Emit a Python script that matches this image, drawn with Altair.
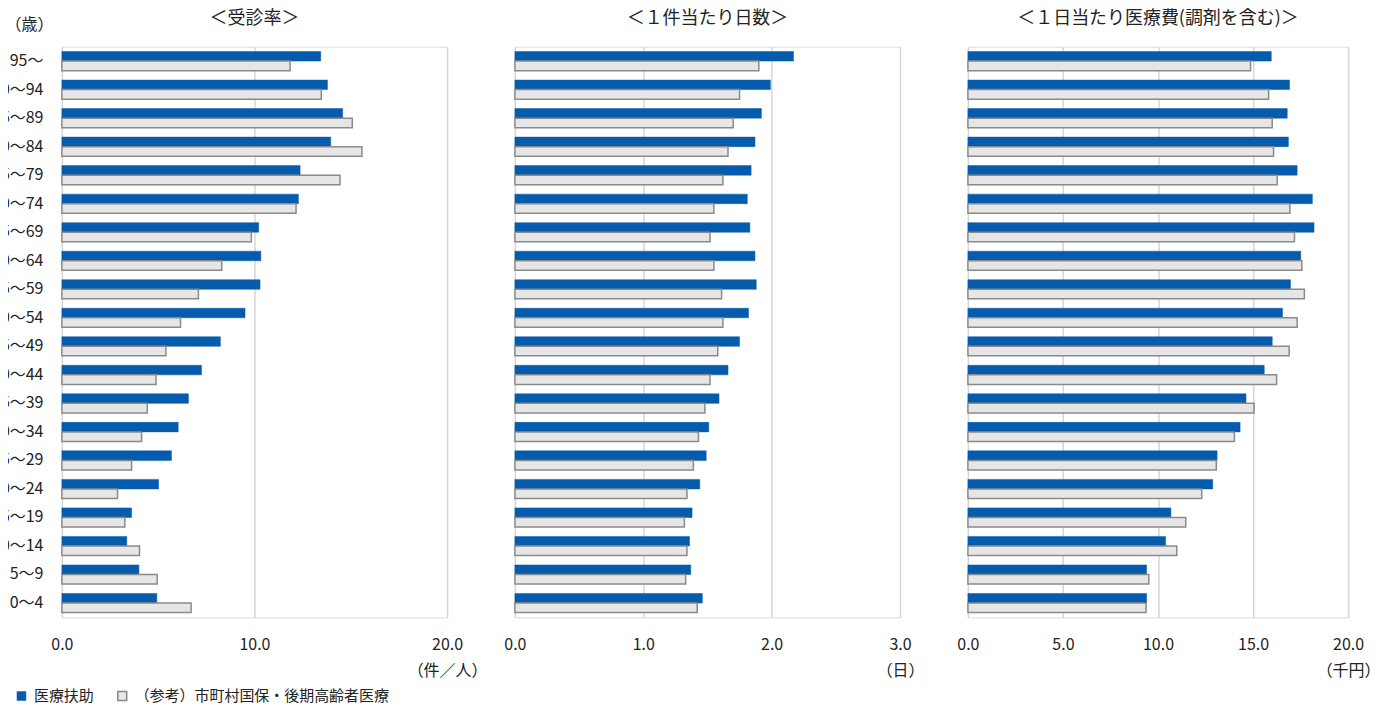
import altair as alt
import pandas as pd

ages = ["95～", "90～94", "85～89", "80～84", "75～79", "70～74", "65～69", "60～64",
        "55～59", "50～54", "45～49", "40～44", "35～39", "30～34", "25～29", "20～24",
        "15～19", "10～14", "5～9", "0～4"]
series = ["医療扶助", "（参考）市町村国保・後期高齢者医療"]

rate_fuj = [13.44, 13.79, 14.58, 13.96, 12.37, 12.28, 10.22, 10.33, 10.29, 9.51,
            8.23, 7.25, 6.57, 6.04, 5.69, 5.02, 3.62, 3.37, 4.00, 4.93]
rate_ref = [11.85, 13.47, 15.08, 15.58, 14.44, 12.16, 9.84, 8.30, 7.09, 6.16,
            5.40, 4.89, 4.43, 4.14, 3.62, 2.89, 3.27, 4.03, 4.95, 6.71]
days_fuj = [2.17, 1.99, 1.92, 1.87, 1.84, 1.81, 1.83, 1.87, 1.88, 1.82,
            1.75, 1.66, 1.59, 1.51, 1.49, 1.44, 1.38, 1.36, 1.37, 1.46]
days_ref = [1.90, 1.75, 1.70, 1.66, 1.62, 1.55, 1.52, 1.55, 1.61, 1.62,
            1.58, 1.52, 1.48, 1.43, 1.39, 1.34, 1.32, 1.34, 1.33, 1.42]
cost_fuj = [15.96, 16.92, 16.80, 16.86, 17.32, 18.12, 18.21, 17.51, 16.97, 16.55,
            16.01, 15.59, 14.63, 14.32, 13.11, 12.88, 10.68, 10.40, 9.40, 9.40]
cost_ref = [14.87, 15.82, 16.01, 16.08, 16.27, 16.94, 17.18, 17.57, 17.70, 17.32,
            16.90, 16.24, 15.05, 14.02, 13.07, 12.30, 11.46, 10.99, 9.52, 9.37]

titles = ["＜受診率＞", "＜１件当たり日数＞", "＜１日当たり医療費(調剤を含む)＞"]
units = ["（件／人）", "（日）", "（千円）"]
x_max = [20, 3, 20]
x_ticks = [[0, 10, 20], [0, 1, 2, 3], [0, 5, 10, 15, 20]]
widths = [386, 386, 381]
title_offsets = [-11, 19, 19]

FONT = "Noto Sans CJK JP"
BLUE = "#055BAC"
REF_FILL = "#e6e6e6"
GRAY = "#8a8a8a"
TXT = "#222222"


def make_df(a, b):
    rows = []
    for i, age in enumerate(ages):
        rows.append({"age": age, "series": series[0], "value": a[i]})
        rows.append({"age": age, "series": series[1], "value": b[i]})
    return pd.DataFrame(rows)


def panel(k, a, b, show_y):
    df = make_df(a, b)
    if show_y:
        yaxis = alt.Axis(
            title="（歳）", labels=True, ticks=False, domain=False,
            labelFontSize=16, labelPadding=19, labelColor=TXT, labelFont=FONT,
            titleAngle=0, titleX=-33, titleY=-22, titleAlign="center",
            titleBaseline="middle", titleFontSize=16, titleFontWeight="normal",
            titleFont=FONT, titleColor=TXT,
        )
    else:
        yaxis = alt.Axis(title=None, labels=False, ticks=False, domain=False)
    return alt.Chart(df).mark_bar().encode(
        x=alt.X("value:Q",
                scale=alt.Scale(domain=[0, x_max[k]], nice=False, zero=True),
                axis=alt.Axis(values=x_ticks[k], format=".1f", title=units[k],
                              ticks=False, domain=False, grid=True,
                              gridColor="#d6d6d6", gridWidth=1.5,
                              labelFontSize=16, labelPadding=19, labelColor=TXT,
                              labelFont=FONT, labelFlush=False,
                              titleX=widths[k], titleY=53, titleAlign="center",
                              titleBaseline="middle", titleFontSize=16,
                              titleFontWeight="normal", titleFont=FONT,
                              titleColor=TXT)),
        y=alt.Y("age:N", sort=ages,
                scale=alt.Scale(paddingInner=0.33, paddingOuter=0.17),
                axis=yaxis),
        yOffset=alt.YOffset("series:N", sort=series),
        color=alt.Color("series:N",
                        scale=alt.Scale(domain=series, range=[BLUE, REF_FILL]),
                        legend=alt.Legend(title=None, orient="none",
                                          direction="horizontal",
                                          legendX=-48, legendY=643,
                                          symbolType="square", symbolSize=80,
                                          symbolStrokeWidth=1.5,
                                          labelFontSize=15, labelFont=FONT,
                                          labelColor=TXT, columnPadding=20,
                                          labelOffset=5, labelLimit=0)),
        stroke=alt.Stroke("series:N",
                          scale=alt.Scale(domain=series, range=[BLUE, GRAY]),
                          legend=None),
        strokeWidth=alt.StrokeWidth("series:N",
                                    scale=alt.Scale(domain=series, range=[0.5, 1.5]),
                                    legend=None),
    ).properties(
        width=widths[k], height=572,
        title=alt.TitleParams(titles[k], fontSize=18, fontWeight="normal",
                              font=FONT, color=TXT, offset=title_offsets[k],
                              anchor="middle"),
    )


p1 = panel(0, rate_fuj, rate_ref, True)
p2 = panel(1, days_fuj, days_ref, False)
p3 = panel(2, cost_fuj, cost_ref, False)

chart = alt.hconcat(p1, p2, p3, spacing=68, bounds="flush").properties(
    padding={"left": -18, "top": 0, "right": 0, "bottom": 0},
).configure_view(
    stroke=GRAY, strokeWidth=1.5,
).configure(
    font=FONT, background="white",
)

chart.save("out.html", embed_options={"renderer": "svg", "actions": False})
